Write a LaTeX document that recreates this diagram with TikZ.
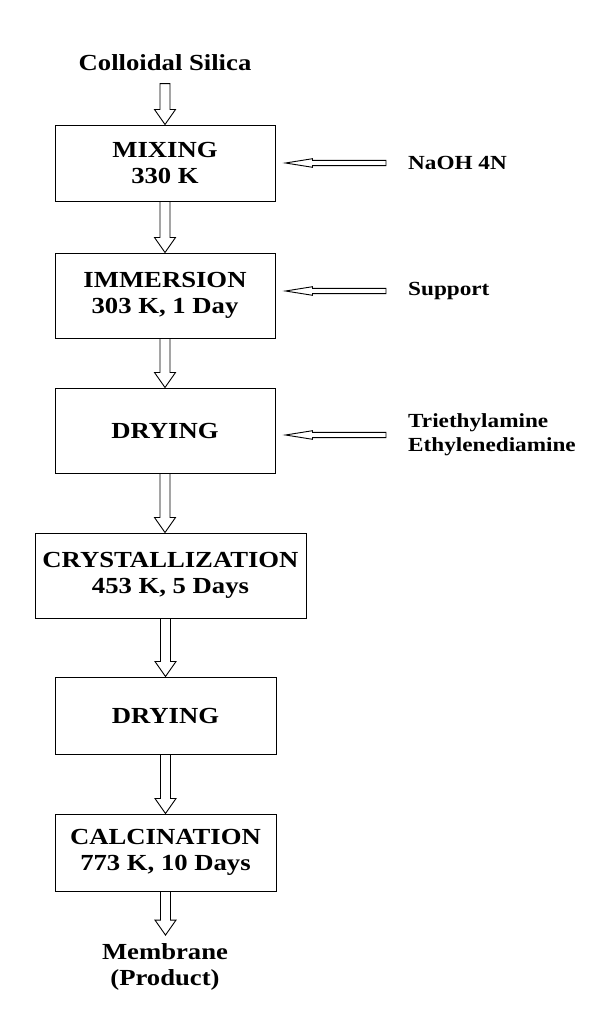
\documentclass[tikz,border=0pt]{standalone}
\usepackage{fontspec}
\setmainfont{Liberation Serif}[FakeStretch=1.16]
\usepackage{tikz}
\usetikzlibrary{calc, positioning}

% hollow block arrow: #1 shaft half width, #2 head half width, #3 head length
\tikzset{
    fat arrow/.style n args={3}{to path={
        let \p1=(\tikztostart), \p2=(\tikztotarget),
            \n1={atan2(\y2-\y1,\x2-\x1)} in
        ($(\p1)+(\n1+90:#1)$) -- ($(\p2)+(\n1+180:#3)+(\n1+90:#1)$)
        -- ($(\p2)+(\n1+180:#3)+(\n1+90:#2)$) -- (\p2)
        -- ($(\p2)+(\n1+180:#3)+(\n1-90:#2)$)
        -- ($(\p2)+(\n1+180:#3)+(\n1-90:#1)$) -- ($(\p1)+(\n1-90:#1)$) -- cycle}},
    down/.style={draw, line width=0.9pt, fat arrow={5pt}{10.5pt}{15pt}},
    side/.style={draw, line width=0.9pt, fat arrow={2.6pt}{4.3pt}{27pt}},
    stepbox/.style={draw, line width=1pt, align=center, inner sep=0pt,
        font=\fontsize{23}{26}\selectfont\bfseries},
    label/.style={align=left, inner sep=0pt, font=\fontsize{20}{24}\selectfont\bfseries}
}

\begin{document}
\begin{tikzpicture}[x=1pt, y=-1pt]
    \useasboundingbox (0,0) rectangle (611,1033);

    % main column
    \node[font=\fontsize{23}{26}\selectfont\bfseries] (silica) at (165,63) {Colloidal Silica};
    \node[stepbox, minimum width=220pt, minimum height=76pt] (mix) at (165,163) {MIXING\\330 K};
    \node[stepbox, minimum width=220pt, minimum height=85pt] (imm) at (165,295.5) {IMMERSION\\303 K, 1 Day};
    \node[stepbox, minimum width=220pt, minimum height=85pt] (dry) at (165,430.5) {DRYING};
    \node[stepbox, minimum width=271pt, minimum height=85pt] (cry) at (170.5,575.5) {CRYSTALLIZATION\\453 K, 5 Days};
    \node[stepbox, minimum width=221pt, minimum height=77pt] (drytwo) at (165.5,715.5) {DRYING};
    \node[stepbox, minimum width=221pt, minimum height=77pt] (calc) at (165.5,852.5) {CALCINATION\\773 K, 10 Days};
    \node[stepbox, draw=none] (membrane) at (165,967) {Membrane\\(Product)};

    % additions on the right
    \node[label, anchor=west] (naoh) at (408,163) {NaOH 4N};
    \node[label, anchor=west] (support) at (408,291) {Support};
    \node[label, anchor=west] (amines) at (408,435) {Triethylamine\\Ethylenediamine};

    % flow down
    \draw[down] ([yshift=-9pt]silica.south) to (mix.north);
    \draw[down] (mix.south) to (imm.north);
    \draw[down] (imm.south) to (dry.north);
    \draw[down] (dry.south) to (cry.north -| dry.south);
    \draw[down] (cry.south -| drytwo.north) to (drytwo.north);
    \draw[down] (drytwo.south) to (calc.north);
    \draw[down] (calc.south) to ([yshift=8pt]membrane.north -| calc.south);

    % feeds from the right
    \draw[side] ([xshift=-22pt]naoh.west) to ([xshift=10pt]mix.east |- naoh.west);
    \draw[side] ([xshift=-22pt]support.west) to ([xshift=10pt]imm.east |- support.west);
    \draw[side] ([xshift=-22pt]amines.west) to ([xshift=10pt]dry.east |- amines.west);
\end{tikzpicture}
\end{document}
